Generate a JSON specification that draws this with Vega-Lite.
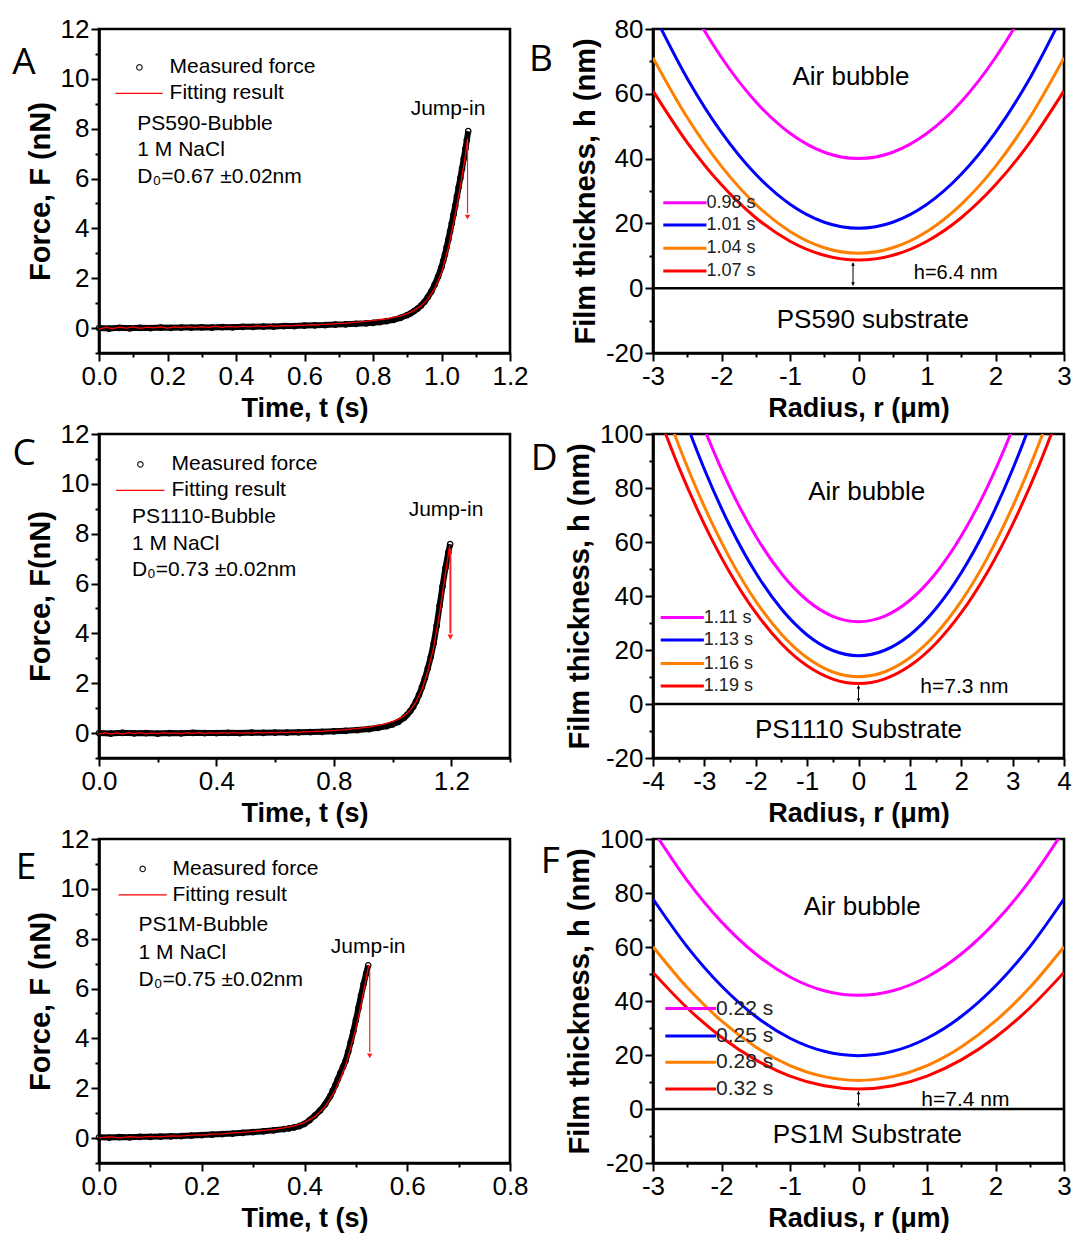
{
"$schema": "https://vega.github.io/schema/vega-lite/v6.json",
"background": "white",
"padding": {"left": 10, "top": 14, "right": 5, "bottom": 5},
"spacing": {"row": 81, "column": 143},
"bounds": "flush",
"columns": 2,
"config": {
  "view": {"stroke": "black", "strokeWidth": 2.6},
  "font": "Liberation Sans",
  "axis": {"domainColor": "black", "domainWidth": 2.6, "tickColor": "black", "tickWidth": 2, "labelFont": "Liberation Sans", "labelFontSize": 26, "labelColor": "black", "labelPadding": 2, "titleFont": "Liberation Sans", "titleFontSize": 27, "titleFontWeight": "bold", "titleColor": "black", "titlePadding": 6, "grid": false, "labelFlush": false, "labelOverlap": false, "labelBound": false},
  "axisY": {"titleFontSize": 29, "titlePadding": 5},
  "text": {"font": "Liberation Sans", "color": "black"}
},
"concat": [
  {
    "width": 411, "height": 324,
    "encoding": {
      "x": {"field": "t", "type": "quantitative", "scale": {"domain": [0, 1.2], "nice": false, "zero": false},
            "axis": {"title": "Time, t (s)", "values": [0,0.1,0.2,0.3,0.4,0.5,0.6,0.7,0.8,0.9,1,1.1,1.2],
                     "labelExpr": "abs(datum.value*5-round(datum.value*5))<0.01 ? format(datum.value,'.1f') : ''",
                     "tickSize": {"condition": {"test": "abs(datum.value*5-round(datum.value*5))<0.01", "value": 8}, "value": 4}}},
      "y": {"field": "F", "type": "quantitative", "scale": {"domain": [-1, 12], "nice": false, "zero": false},
            "axis": {"title": "Force, F (nN)", "values": [-1,0,1,2,3,4,5,6,7,8,9,10,11,12],
                     "labelExpr": "(datum.value>=0 && datum.value%2==0) ? datum.label : ''",
                     "tickSize": {"condition": {"test": "datum.value%2==0", "value": 8}, "value": 4}}}
    },
    "layer": [
      {"data": {"values": [
        {"t":0,"F":0.0},{"t":0.03,"F":-0.02},{"t":0.06,"F":0.01},{"t":0.09,"F":-0.01},{"t":0.12,"F":0.01},{"t":0.15,"F":0.0},{"t":0.18,"F":0.02},{"t":0.21,"F":0.01},{"t":0.24,"F":0.02},{"t":0.27,"F":0.02},{"t":0.30,"F":0.03},{"t":0.33,"F":0.02},{"t":0.36,"F":0.04},{"t":0.39,"F":0.03},{"t":0.42,"F":0.05},{"t":0.45,"F":0.05},{"t":0.48,"F":0.06},{"t":0.51,"F":0.06},{"t":0.54,"F":0.08},{"t":0.57,"F":0.08},{"t":0.60,"F":0.10},{"t":0.63,"F":0.11},{"t":0.66,"F":0.12},{"t":0.69,"F":0.14},{"t":0.72,"F":0.15},{"t":0.75,"F":0.17},{"t":0.78,"F":0.19},{"t":0.80,"F":0.21},{"t":0.82,"F":0.24},{"t":0.84,"F":0.28},{"t":0.86,"F":0.33},{"t":0.88,"F":0.41},{"t":0.90,"F":0.52},{"t":0.91,"F":0.59},{"t":0.92,"F":0.68},{"t":0.93,"F":0.78},{"t":0.94,"F":0.90},{"t":0.95,"F":1.05},{"t":0.96,"F":1.24},{"t":0.97,"F":1.46},{"t":0.98,"F":1.74},{"t":0.99,"F":2.06},{"t":1.00,"F":2.45},{"t":1.005,"F":2.70},{"t":1.01,"F":2.95},{"t":1.015,"F":3.25},{"t":1.02,"F":3.55},{"t":1.025,"F":3.88},{"t":1.03,"F":4.20},{"t":1.035,"F":4.55},{"t":1.04,"F":4.90},{"t":1.045,"F":5.28},{"t":1.05,"F":5.65},{"t":1.055,"F":6.02},{"t":1.06,"F":6.40},{"t":1.065,"F":6.80},{"t":1.07,"F":7.20},{"t":1.074,"F":7.55},{"t":1.078,"F":7.90}
      ]}, "mark": {"type": "line", "color": "black", "strokeWidth": 6}, "encoding": {}},
      {"data": {"values": [
        {"t":0,"F":0.0},{"t":0.03,"F":-0.02},{"t":0.06,"F":0.01},{"t":0.09,"F":-0.01},{"t":0.12,"F":0.01},{"t":0.15,"F":0.0},{"t":0.18,"F":0.02},{"t":0.21,"F":0.01},{"t":0.24,"F":0.02},{"t":0.27,"F":0.02},{"t":0.30,"F":0.03},{"t":0.33,"F":0.02},{"t":0.36,"F":0.04},{"t":0.39,"F":0.03},{"t":0.42,"F":0.05},{"t":0.45,"F":0.05},{"t":0.48,"F":0.06},{"t":0.51,"F":0.06},{"t":0.54,"F":0.08},{"t":0.57,"F":0.08},{"t":0.60,"F":0.10},{"t":0.63,"F":0.11},{"t":0.66,"F":0.12},{"t":0.69,"F":0.14},{"t":0.72,"F":0.15},{"t":0.75,"F":0.17},{"t":0.78,"F":0.19},{"t":0.80,"F":0.21},{"t":0.82,"F":0.24},{"t":0.84,"F":0.28},{"t":0.86,"F":0.33},{"t":0.88,"F":0.41},{"t":0.90,"F":0.52},{"t":0.91,"F":0.59},{"t":0.92,"F":0.68},{"t":0.93,"F":0.78},{"t":0.94,"F":0.90},{"t":0.95,"F":1.05},{"t":0.96,"F":1.24},{"t":0.97,"F":1.46},{"t":0.98,"F":1.74},{"t":0.99,"F":2.06},{"t":1.00,"F":2.45},{"t":1.005,"F":2.70},{"t":1.01,"F":2.95},{"t":1.015,"F":3.25},{"t":1.02,"F":3.55},{"t":1.025,"F":3.88},{"t":1.03,"F":4.20},{"t":1.035,"F":4.55},{"t":1.04,"F":4.90},{"t":1.045,"F":5.28},{"t":1.05,"F":5.65},{"t":1.055,"F":6.02},{"t":1.06,"F":6.40},{"t":1.065,"F":6.80},{"t":1.07,"F":7.20},{"t":1.074,"F":7.55},{"t":1.078,"F":7.90}
      ]}, "mark": {"type": "point", "shape": "circle", "filled": false, "color": "black", "size": 30, "strokeWidth": 1.2, "opacity": 1}, "encoding": {}},
      {"data": {"values": [
        {"t":0,"F":-0.04},{"t":0.02,"F":0.03},{"t":0.04,"F":-0.02},{"t":0.06,"F":0.04},{"t":0.08,"F":0.0},{"t":0.10,"F":0.05},{"t":0.12,"F":-0.01},{"t":0.14,"F":0.04},{"t":0.16,"F":0.01},{"t":0.18,"F":0.05},{"t":0.20,"F":0.0},{"t":0.22,"F":0.05},{"t":0.24,"F":0.02},{"t":0.26,"F":0.06},{"t":0.28,"F":0.02},{"t":0.30,"F":0.06},{"t":0.32,"F":0.03},{"t":0.34,"F":0.07},{"t":0.36,"F":0.03},{"t":0.38,"F":0.07},{"t":0.40,"F":0.04},{"t":0.42,"F":0.08},{"t":0.44,"F":0.05},{"t":0.46,"F":0.09},{"t":0.48,"F":0.06},{"t":0.50,"F":0.10},{"t":0.52,"F":0.07},{"t":0.54,"F":0.11},{"t":0.56,"F":0.09},{"t":0.58,"F":0.12},{"t":0.60,"F":0.11},{"t":0.62,"F":0.14},{"t":0.64,"F":0.13},{"t":0.66,"F":0.16},{"t":0.68,"F":0.16},{"t":0.70,"F":0.19},{"t":0.72,"F":0.19},{"t":0.74,"F":0.23},{"t":0.76,"F":0.24},{"t":0.78,"F":0.28},{"t":0.80,"F":0.30},{"t":0.82,"F":0.34},{"t":0.84,"F":0.37},{"t":0.86,"F":0.43},{"t":0.88,"F":0.49},{"t":0.90,"F":0.58},{"t":0.92,"F":0.71},{"t":0.94,"F":0.89},{"t":0.96,"F":1.15},{"t":0.98,"F":1.58},{"t":1.00,"F":2.22},{"t":1.02,"F":3.22},{"t":1.04,"F":4.55},{"t":1.05,"F":5.30},{"t":1.06,"F":6.10},{"t":1.07,"F":6.95},{"t":1.076,"F":7.60}
      ]}, "mark": {"type": "line", "color": "#ff0000", "strokeWidth": 1.3}, "encoding": {}},
      {"data": {"values": [{"t":1.076,"F":7.55,"F2":4.6}]}, "mark": {"type": "rule", "color": "#ff2020", "strokeWidth": 1.2}, "encoding": {"y2": {"field": "F2"}}},
      {"data": {"values": [{"t":1.076,"F":4.45}]}, "mark": {"type": "point", "shape": "triangle-down", "filled": true, "color": "#ff2020", "size": 30, "opacity": 1}, "encoding": {}},
      {"data": {"values": [{"t":0.118,"F":10.46}]}, "mark": {"type": "point", "shape": "circle", "filled": false, "color": "#222222", "size": 30, "strokeWidth": 1.2, "opacity": 1}, "encoding": {}},
      {"data": {"values": [{"t":0.048,"t2":0.186,"F":9.42}]}, "mark": {"type": "rule", "color": "#ff0000", "strokeWidth": 1.2}, "encoding": {"x2": {"field": "t2"}}},
      {"data": {"values": [
        {"t":0.206,"F":10.46,"label":"Measured force"},{"t":0.206,"F":9.42,"label":"Fitting result"},{"t":0.112,"F":8.2,"label":"PS590-Bubble"},{"t":0.112,"F":7.13,"label":"1 M NaCl"},{"t":0.112,"F":6.07,"label":"D₀=0.67 ±0.02nm"}
      ]}, "mark": {"type": "text", "align": "left", "baseline": "middle", "fontSize": 21}, "encoding": {"text": {"field": "label"}}},
      {"data": {"values": [{"t":1.019,"F":8.8,"label":"Jump-in"}]}, "mark": {"type": "text", "align": "center", "baseline": "middle", "fontSize": 21}, "encoding": {"text": {"field": "label"}}},
      {"data": {"values": [{"t":-0.219,"F":10.65,"label":"A"}]}, "mark": {"type": "text", "align": "center", "baseline": "middle", "fontSize": 37, "font": "Open Sans"}, "encoding": {"text": {"field": "label"}}}
    ]
  },
  {
    "width": 411, "height": 324,
    "encoding": {
      "x": {"field": "r", "type": "quantitative", "scale": {"domain": [-3, 3], "nice": false, "zero": false},
            "axis": {"title": "Radius, r (μm)", "values": [-3,-2.5,-2,-1.5,-1,-0.5,0,0.5,1,1.5,2,2.5,3],
                     "labelExpr": "datum.value%1==0 ? ''+datum.value : ''",
                     "tickSize": {"condition": {"test": "datum.value%1==0", "value": 8}, "value": 4}}},
      "y": {"field": "h", "type": "quantitative", "scale": {"domain": [-20, 80], "nice": false, "zero": false},
            "axis": {"title": "Film thickness, h (nm)", "values": [-20,-10,0,10,20,30,40,50,60,70,80],
                     "labelExpr": "datum.value%20==0 ? ''+datum.value : ''",
                     "tickSize": {"condition": {"test": "datum.value%20==0", "value": 8}, "value": 4}}}
    },
    "layer": [
      {"data": {"values": [
        {"r":-3,"h":110.2,"s":"0.98 s"},{"r":-2.5,"h":88.75,"s":"0.98 s"},{"r":-2,"h":71.2,"s":"0.98 s"},{"r":-1.5,"h":57.55,"s":"0.98 s"},{"r":-1,"h":47.8,"s":"0.98 s"},{"r":-0.5,"h":41.95,"s":"0.98 s"},{"r":0,"h":40,"s":"0.98 s"},{"r":0.5,"h":41.95,"s":"0.98 s"},{"r":1,"h":47.8,"s":"0.98 s"},{"r":1.5,"h":57.55,"s":"0.98 s"},{"r":2,"h":71.2,"s":"0.98 s"},{"r":2.5,"h":88.75,"s":"0.98 s"},{"r":3,"h":110.2,"s":"0.98 s"},
        {"r":-3,"h":85.1,"s":"1.01 s"},{"r":-2.5,"h":64.75,"s":"1.01 s"},{"r":-2,"h":48.1,"s":"1.01 s"},{"r":-1.5,"h":35.15,"s":"1.01 s"},{"r":-1,"h":25.9,"s":"1.01 s"},{"r":-0.5,"h":20.35,"s":"1.01 s"},{"r":0,"h":18.5,"s":"1.01 s"},{"r":0.5,"h":20.35,"s":"1.01 s"},{"r":1,"h":25.9,"s":"1.01 s"},{"r":1.5,"h":35.15,"s":"1.01 s"},{"r":2,"h":48.1,"s":"1.01 s"},{"r":2.5,"h":64.75,"s":"1.01 s"},{"r":3,"h":85.1,"s":"1.01 s"},
        {"r":-3,"h":71.1,"s":"1.04 s"},{"r":-2.5,"h":52.68,"s":"1.04 s"},{"r":-2,"h":37.6,"s":"1.04 s"},{"r":-1.5,"h":25.88,"s":"1.04 s"},{"r":-1,"h":17.5,"s":"1.04 s"},{"r":-0.5,"h":12.48,"s":"1.04 s"},{"r":0,"h":10.8,"s":"1.04 s"},{"r":0.5,"h":12.48,"s":"1.04 s"},{"r":1,"h":17.5,"s":"1.04 s"},{"r":1.5,"h":25.88,"s":"1.04 s"},{"r":2,"h":37.6,"s":"1.04 s"},{"r":2.5,"h":52.68,"s":"1.04 s"},{"r":3,"h":71.1,"s":"1.04 s"},
        {"r":-3,"h":60.9,"s":"1.07 s"},{"r":-2.5,"h":44.95,"s":"1.07 s"},{"r":-2,"h":31.9,"s":"1.07 s"},{"r":-1.5,"h":21.75,"s":"1.07 s"},{"r":-1,"h":14.5,"s":"1.07 s"},{"r":-0.5,"h":10.15,"s":"1.07 s"},{"r":0,"h":8.7,"s":"1.07 s"},{"r":0.5,"h":10.15,"s":"1.07 s"},{"r":1,"h":14.5,"s":"1.07 s"},{"r":1.5,"h":21.75,"s":"1.07 s"},{"r":2,"h":31.9,"s":"1.07 s"},{"r":2.5,"h":44.95,"s":"1.07 s"},{"r":3,"h":60.9,"s":"1.07 s"}
      ]}, "mark": {"type": "line", "strokeWidth": 3, "clip": true, "interpolate": "monotone"},
       "encoding": {"color": {"field": "s", "type": "nominal", "scale": {"domain": ["0.98 s","1.01 s","1.04 s","1.07 s"], "range": ["#ff00ff","#0000ff","#ff8000","#ff0000"]}, "legend": null}}},
      {"data": {"values": [
        {"r":-2.85,"r2":-2.22,"h":26.4,"s":"0.98 s"},{"r":-2.85,"r2":-2.22,"h":19.5,"s":"1.01 s"},{"r":-2.85,"r2":-2.22,"h":12.3,"s":"1.04 s"},{"r":-2.85,"r2":-2.22,"h":5.3,"s":"1.07 s"}
      ]}, "mark": {"type": "rule", "strokeWidth": 3}, "encoding": {"x2": {"field": "r2"}, "color": {"field": "s", "type": "nominal", "legend": null}}},
      {"data": {"values": [
        {"r":-2.22,"h":26.4,"label":"0.98 s"},{"r":-2.22,"h":19.5,"label":"1.01 s"},{"r":-2.22,"h":12.3,"label":"1.04 s"},{"r":-2.22,"h":5.3,"label":"1.07 s"}
      ]}, "mark": {"type": "text", "align": "left", "baseline": "middle", "fontSize": 18, "color": "#222222"}, "encoding": {"text": {"field": "label"}}},
      {"data": {"values": [{"r":1.42,"h":4.6,"label":"h=6.4 nm"}]}, "mark": {"type": "text", "align": "center", "baseline": "middle", "fontSize": 20}, "encoding": {"text": {"field": "label"}}},
      {"data": {"values": [{"r":-3,"r2":3,"h":0}]}, "mark": {"type": "rule", "color": "black", "strokeWidth": 2.6}, "encoding": {"x2": {"field": "r2"}}},
      {"data": {"values": [{"r":-0.08,"h":0.8,"h2":7.8}]}, "mark": {"type": "rule", "color": "black", "strokeWidth": 1}, "encoding": {"y2": {"field": "h2"}}},
      {"data": {"values": [{"r":-0.08,"h":7.4}]}, "mark": {"type": "point", "shape": "triangle-up", "filled": true, "color": "black", "size": 14, "opacity": 1}, "encoding": {}},
      {"data": {"values": [{"r":-0.08,"h":1.3}]}, "mark": {"type": "point", "shape": "triangle-down", "filled": true, "color": "black", "size": 14, "opacity": 1}, "encoding": {}},
      {"data": {"values": [{"r":-0.11,"h":65.1,"label":"Air bubble"},{"r":0.21,"h":-9.7,"label":"PS590 substrate"}]}, "mark": {"type": "text", "align": "center", "baseline": "middle", "fontSize": 26}, "encoding": {"text": {"field": "label"}}},
      {"data": {"values": [{"r":-4.635,"h":70.4,"label":"B"}]}, "mark": {"type": "text", "align": "center", "baseline": "middle", "fontSize": 37, "font": "Open Sans"}, "encoding": {"text": {"field": "label"}}}
    ]
  },
  {
    "width": 411, "height": 324,
    "encoding": {
      "x": {"field": "t", "type": "quantitative", "scale": {"domain": [0, 1.4], "nice": false, "zero": false},
            "axis": {"title": "Time, t (s)", "values": [0,0.2,0.4,0.6,0.8,1,1.2,1.4],
                     "labelExpr": "abs(datum.value*2.5-round(datum.value*2.5))<0.01 ? format(datum.value,'.1f') : ''",
                     "tickSize": {"condition": {"test": "abs(datum.value*2.5-round(datum.value*2.5))<0.01", "value": 8}, "value": 4}}},
      "y": {"field": "F", "type": "quantitative", "scale": {"domain": [-1, 12], "nice": false, "zero": false},
            "axis": {"title": "Force, F(nN)", "values": [-1,0,1,2,3,4,5,6,7,8,9,10,11,12],
                     "labelExpr": "(datum.value>=0 && datum.value%2==0) ? datum.label : ''",
                     "tickSize": {"condition": {"test": "datum.value%2==0", "value": 8}, "value": 4}}}
    },
    "layer": [
      {"data": {"values": [
        {"t":0,"F":0.0},{"t":0.04,"F":-0.02},{"t":0.08,"F":0.01},{"t":0.12,"F":-0.01},{"t":0.16,"F":0.0},{"t":0.20,"F":-0.02},{"t":0.24,"F":0.0},{"t":0.28,"F":-0.01},{"t":0.32,"F":0.01},{"t":0.36,"F":0.0},{"t":0.40,"F":0.0},{"t":0.44,"F":0.01},{"t":0.48,"F":0.0},{"t":0.52,"F":0.02},{"t":0.56,"F":0.01},{"t":0.60,"F":0.02},{"t":0.64,"F":0.02},{"t":0.68,"F":0.03},{"t":0.72,"F":0.04},{"t":0.76,"F":0.05},{"t":0.80,"F":0.07},{"t":0.84,"F":0.09},{"t":0.88,"F":0.12},{"t":0.92,"F":0.16},{"t":0.95,"F":0.21},{"t":0.98,"F":0.28},{"t":1.00,"F":0.35},{"t":1.02,"F":0.45},{"t":1.04,"F":0.62},{"t":1.05,"F":0.74},{"t":1.06,"F":0.88},{"t":1.07,"F":1.05},{"t":1.08,"F":1.27},{"t":1.09,"F":1.53},{"t":1.10,"F":1.84},{"t":1.11,"F":2.20},{"t":1.12,"F":2.60},{"t":1.13,"F":3.05},{"t":1.14,"F":3.60},{"t":1.15,"F":4.30},{"t":1.16,"F":5.10},{"t":1.17,"F":5.88},{"t":1.18,"F":6.62},{"t":1.19,"F":7.25},{"t":1.196,"F":7.58}
      ]}, "mark": {"type": "line", "color": "black", "strokeWidth": 6}, "encoding": {}},
      {"data": {"values": [
        {"t":0,"F":0.0},{"t":0.04,"F":-0.02},{"t":0.08,"F":0.01},{"t":0.12,"F":-0.01},{"t":0.16,"F":0.0},{"t":0.20,"F":-0.02},{"t":0.24,"F":0.0},{"t":0.28,"F":-0.01},{"t":0.32,"F":0.01},{"t":0.36,"F":0.0},{"t":0.40,"F":0.0},{"t":0.44,"F":0.01},{"t":0.48,"F":0.0},{"t":0.52,"F":0.02},{"t":0.56,"F":0.01},{"t":0.60,"F":0.02},{"t":0.64,"F":0.02},{"t":0.68,"F":0.03},{"t":0.72,"F":0.04},{"t":0.76,"F":0.05},{"t":0.80,"F":0.07},{"t":0.84,"F":0.09},{"t":0.88,"F":0.12},{"t":0.92,"F":0.16},{"t":0.95,"F":0.21},{"t":0.98,"F":0.28},{"t":1.00,"F":0.35},{"t":1.02,"F":0.45},{"t":1.04,"F":0.62},{"t":1.05,"F":0.74},{"t":1.06,"F":0.88},{"t":1.07,"F":1.05},{"t":1.08,"F":1.27},{"t":1.09,"F":1.53},{"t":1.10,"F":1.84},{"t":1.11,"F":2.20},{"t":1.12,"F":2.60},{"t":1.13,"F":3.05},{"t":1.14,"F":3.60},{"t":1.15,"F":4.30},{"t":1.16,"F":5.10},{"t":1.17,"F":5.88},{"t":1.18,"F":6.62},{"t":1.19,"F":7.25},{"t":1.196,"F":7.58}
      ]}, "mark": {"type": "point", "shape": "circle", "filled": false, "color": "black", "size": 30, "strokeWidth": 1.2, "opacity": 1}, "encoding": {}},
      {"data": {"values": [
        {"t":0,"F":-0.04},{"t":0.02,"F":0.02},{"t":0.04,"F":-0.03},{"t":0.06,"F":0.01},{"t":0.08,"F":-0.04},{"t":0.10,"F":0.02},{"t":0.12,"F":-0.02},{"t":0.14,"F":0.02},{"t":0.16,"F":-0.03},{"t":0.18,"F":0.01},{"t":0.20,"F":-0.02},{"t":0.22,"F":0.02},{"t":0.24,"F":-0.02},{"t":0.26,"F":0.01},{"t":0.28,"F":-0.03},{"t":0.30,"F":0.02},{"t":0.32,"F":-0.01},{"t":0.34,"F":0.02},{"t":0.36,"F":-0.02},{"t":0.38,"F":0.02},{"t":0.40,"F":-0.01},{"t":0.42,"F":0.02},{"t":0.44,"F":0.0},{"t":0.46,"F":0.03},{"t":0.48,"F":-0.01},{"t":0.50,"F":0.02},{"t":0.52,"F":0.0},{"t":0.54,"F":0.03},{"t":0.56,"F":0.0},{"t":0.58,"F":0.03},{"t":0.60,"F":0.01},{"t":0.62,"F":0.04},{"t":0.64,"F":0.02},{"t":0.66,"F":0.05},{"t":0.68,"F":0.03},{"t":0.70,"F":0.06},{"t":0.72,"F":0.05},{"t":0.74,"F":0.08},{"t":0.76,"F":0.07},{"t":0.78,"F":0.10},{"t":0.80,"F":0.10},{"t":0.82,"F":0.13},{"t":0.84,"F":0.13},{"t":0.86,"F":0.17},{"t":0.88,"F":0.18},{"t":0.90,"F":0.22},{"t":0.92,"F":0.24},{"t":0.94,"F":0.29},{"t":0.96,"F":0.33},{"t":0.98,"F":0.39},{"t":1.00,"F":0.46},{"t":1.02,"F":0.56},{"t":1.04,"F":0.70},{"t":1.06,"F":0.92},{"t":1.08,"F":1.25},{"t":1.10,"F":1.75},{"t":1.12,"F":2.48},{"t":1.14,"F":3.45},{"t":1.16,"F":4.80},{"t":1.18,"F":6.40},{"t":1.195,"F":7.55}
      ]}, "mark": {"type": "line", "color": "#ff0000", "strokeWidth": 1.3}, "encoding": {}},
      {"data": {"values": [{"t":1.197,"F":7.4,"F2":4.0}]}, "mark": {"type": "rule", "color": "#ff2020", "strokeWidth": 2}, "encoding": {"y2": {"field": "F2"}}},
      {"data": {"values": [{"t":1.197,"F":3.85}]}, "mark": {"type": "point", "shape": "triangle-down", "filled": true, "color": "#ff2020", "size": 35, "opacity": 1}, "encoding": {}},
      {"data": {"values": [{"t":0.141,"F":10.78}]}, "mark": {"type": "point", "shape": "circle", "filled": false, "color": "#222222", "size": 30, "strokeWidth": 1.2, "opacity": 1}, "encoding": {}},
      {"data": {"values": [{"t":0.058,"t2":0.223,"F":9.74}]}, "mark": {"type": "rule", "color": "#ff0000", "strokeWidth": 1.2}, "encoding": {"x2": {"field": "t2"}}},
      {"data": {"values": [
        {"t":0.247,"F":10.78,"label":"Measured force"},{"t":0.247,"F":9.74,"label":"Fitting result"},{"t":0.112,"F":8.68,"label":"PS1110-Bubble"},{"t":0.112,"F":7.6,"label":"1 M NaCl"},{"t":0.112,"F":6.55,"label":"D₀=0.73 ±0.02nm"}
      ]}, "mark": {"type": "text", "align": "left", "baseline": "middle", "fontSize": 21}, "encoding": {"text": {"field": "label"}}},
      {"data": {"values": [{"t":1.182,"F":8.95,"label":"Jump-in"}]}, "mark": {"type": "text", "align": "center", "baseline": "middle", "fontSize": 21}, "encoding": {"text": {"field": "label"}}},
      {"data": {"values": [{"t":-0.255,"F":11.2,"label":"C"}]}, "mark": {"type": "text", "align": "center", "baseline": "middle", "fontSize": 37, "font": "Open Sans"}, "encoding": {"text": {"field": "label"}}}
    ]
  },
  {
    "width": 411, "height": 324,
    "encoding": {
      "x": {"field": "r", "type": "quantitative", "scale": {"domain": [-4, 4], "nice": false, "zero": false},
            "axis": {"title": "Radius, r (μm)", "values": [-4,-3.5,-3,-2.5,-2,-1.5,-1,-0.5,0,0.5,1,1.5,2,2.5,3,3.5,4],
                     "labelExpr": "datum.value%1==0 ? ''+datum.value : ''",
                     "tickSize": {"condition": {"test": "datum.value%1==0", "value": 8}, "value": 4}}},
      "y": {"field": "h", "type": "quantitative", "scale": {"domain": [-20, 100], "nice": false, "zero": false},
            "axis": {"title": "Film thickness, h (nm)", "values": [-20,-10,0,10,20,30,40,50,60,70,80,90,100],
                     "labelExpr": "datum.value%20==0 ? ''+datum.value : ''",
                     "tickSize": {"condition": {"test": "datum.value%20==0", "value": 8}, "value": 4}}}
    },
    "layer": [
      {"data": {"values": [
        {"r":-4,"h":157.4,"s":"1.11 s"},{"r":-3.5,"h":127.6,"s":"1.11 s"},{"r":-3,"h":101.9,"s":"1.11 s"},{"r":-2.5,"h":80.06,"s":"1.11 s"},{"r":-2,"h":62.22,"s":"1.11 s"},{"r":-1.5,"h":48.34,"s":"1.11 s"},{"r":-1,"h":38.43,"s":"1.11 s"},{"r":-0.5,"h":32.48,"s":"1.11 s"},{"r":0,"h":30.5,"s":"1.11 s"},{"r":0.5,"h":32.48,"s":"1.11 s"},{"r":1,"h":38.43,"s":"1.11 s"},{"r":1.5,"h":48.34,"s":"1.11 s"},{"r":2,"h":62.22,"s":"1.11 s"},{"r":2.5,"h":80.06,"s":"1.11 s"},{"r":3,"h":101.9,"s":"1.11 s"},{"r":3.5,"h":127.6,"s":"1.11 s"},{"r":4,"h":157.4,"s":"1.11 s"},
        {"r":-4,"h":140.6,"s":"1.13 s"},{"r":-3.5,"h":111.9,"s":"1.13 s"},{"r":-3,"h":86.93,"s":"1.13 s"},{"r":-2.5,"h":65.84,"s":"1.13 s"},{"r":-2,"h":48.58,"s":"1.13 s"},{"r":-1.5,"h":35.16,"s":"1.13 s"},{"r":-1,"h":25.57,"s":"1.13 s"},{"r":-0.5,"h":19.82,"s":"1.13 s"},{"r":0,"h":17.9,"s":"1.13 s"},{"r":0.5,"h":19.82,"s":"1.13 s"},{"r":1,"h":25.57,"s":"1.13 s"},{"r":1.5,"h":35.16,"s":"1.13 s"},{"r":2,"h":48.58,"s":"1.13 s"},{"r":2.5,"h":65.84,"s":"1.13 s"},{"r":3,"h":86.93,"s":"1.13 s"},{"r":3.5,"h":111.9,"s":"1.13 s"},{"r":4,"h":140.6,"s":"1.13 s"},
        {"r":-4,"h":122.1,"s":"1.16 s"},{"r":-3.5,"h":95.85,"s":"1.16 s"},{"r":-3,"h":73.1,"s":"1.16 s"},{"r":-2.5,"h":53.85,"s":"1.16 s"},{"r":-2,"h":38.1,"s":"1.16 s"},{"r":-1.5,"h":25.85,"s":"1.16 s"},{"r":-1,"h":17.1,"s":"1.16 s"},{"r":-0.5,"h":11.85,"s":"1.16 s"},{"r":0,"h":10.1,"s":"1.16 s"},{"r":0.5,"h":11.85,"s":"1.16 s"},{"r":1,"h":17.1,"s":"1.16 s"},{"r":1.5,"h":25.85,"s":"1.16 s"},{"r":2,"h":38.1,"s":"1.16 s"},{"r":2.5,"h":53.85,"s":"1.16 s"},{"r":3,"h":73.1,"s":"1.16 s"},{"r":3.5,"h":95.85,"s":"1.16 s"},{"r":4,"h":122.1,"s":"1.16 s"},
        {"r":-4,"h":112.4,"s":"1.19 s"},{"r":-3.5,"h":87.84,"s":"1.19 s"},{"r":-3,"h":66.55,"s":"1.19 s"},{"r":-2.5,"h":48.54,"s":"1.19 s"},{"r":-2,"h":33.8,"s":"1.19 s"},{"r":-1.5,"h":22.34,"s":"1.19 s"},{"r":-1,"h":14.15,"s":"1.19 s"},{"r":-0.5,"h":9.24,"s":"1.19 s"},{"r":0,"h":7.6,"s":"1.19 s"},{"r":0.5,"h":9.24,"s":"1.19 s"},{"r":1,"h":14.15,"s":"1.19 s"},{"r":1.5,"h":22.34,"s":"1.19 s"},{"r":2,"h":33.8,"s":"1.19 s"},{"r":2.5,"h":48.54,"s":"1.19 s"},{"r":3,"h":66.55,"s":"1.19 s"},{"r":3.5,"h":87.84,"s":"1.19 s"},{"r":4,"h":112.4,"s":"1.19 s"}
      ]}, "mark": {"type": "line", "strokeWidth": 3, "clip": true, "interpolate": "monotone"},
       "encoding": {"color": {"field": "s", "type": "nominal", "scale": {"domain": ["1.11 s","1.13 s","1.16 s","1.19 s"], "range": ["#ff00ff","#0000ff","#ff8000","#ff0000"]}, "legend": null}}},
      {"data": {"values": [
        {"r":-3.85,"r2":-3.01,"h":32,"s":"1.11 s"},{"r":-3.85,"r2":-3.01,"h":23.7,"s":"1.13 s"},{"r":-3.85,"r2":-3.01,"h":15,"s":"1.16 s"},{"r":-3.85,"r2":-3.01,"h":6.7,"s":"1.19 s"}
      ]}, "mark": {"type": "rule", "strokeWidth": 3}, "encoding": {"x2": {"field": "r2"}, "color": {"field": "s", "type": "nominal", "legend": null}}},
      {"data": {"values": [
        {"r":-3.01,"h":32,"label":"1.11 s"},{"r":-3.01,"h":23.7,"label":"1.13 s"},{"r":-3.01,"h":15,"label":"1.16 s"},{"r":-3.01,"h":6.7,"label":"1.19 s"}
      ]}, "mark": {"type": "text", "align": "left", "baseline": "middle", "fontSize": 18, "color": "#222222"}, "encoding": {"text": {"field": "label"}}},
      {"data": {"values": [{"r":2.06,"h":6.3,"label":"h=7.3 nm"}]}, "mark": {"type": "text", "align": "center", "baseline": "middle", "fontSize": 21}, "encoding": {"text": {"field": "label"}}},
      {"data": {"values": [{"r":-4,"r2":4,"h":0}]}, "mark": {"type": "rule", "color": "black", "strokeWidth": 2.6}, "encoding": {"x2": {"field": "r2"}}},
      {"data": {"values": [{"r":0,"h":0.8,"h2":6.8}]}, "mark": {"type": "rule", "color": "black", "strokeWidth": 1}, "encoding": {"y2": {"field": "h2"}}},
      {"data": {"values": [{"r":0,"h":6.3}]}, "mark": {"type": "point", "shape": "triangle-up", "filled": true, "color": "black", "size": 14, "opacity": 1}, "encoding": {}},
      {"data": {"values": [{"r":0,"h":1.4}]}, "mark": {"type": "point", "shape": "triangle-down", "filled": true, "color": "black", "size": 14, "opacity": 1}, "encoding": {}},
      {"data": {"values": [{"r":0.16,"h":78.4,"label":"Air bubble"},{"r":0,"h":-9.8,"label":"PS1110 Substrate"}]}, "mark": {"type": "text", "align": "center", "baseline": "middle", "fontSize": 26}, "encoding": {"text": {"field": "label"}}},
      {"data": {"values": [{"r":-6.12,"h":90.7,"label":"D"}]}, "mark": {"type": "text", "align": "center", "baseline": "middle", "fontSize": 37, "font": "Open Sans"}, "encoding": {"text": {"field": "label"}}}
    ]
  },
  {
    "width": 411, "height": 324,
    "encoding": {
      "x": {"field": "t", "type": "quantitative", "scale": {"domain": [0, 0.8], "nice": false, "zero": false},
            "axis": {"title": "Time, t (s)", "values": [0,0.1,0.2,0.3,0.4,0.5,0.6,0.7,0.8],
                     "labelExpr": "abs(datum.value*5-round(datum.value*5))<0.01 ? format(datum.value,'.1f') : ''",
                     "tickSize": {"condition": {"test": "abs(datum.value*5-round(datum.value*5))<0.01", "value": 8}, "value": 4}}},
      "y": {"field": "F", "type": "quantitative", "scale": {"domain": [-1, 12], "nice": false, "zero": false},
            "axis": {"title": "Force, F (nN)", "values": [-1,0,1,2,3,4,5,6,7,8,9,10,11,12],
                     "labelExpr": "(datum.value>=0 && datum.value%2==0) ? datum.label : ''",
                     "tickSize": {"condition": {"test": "datum.value%2==0", "value": 8}, "value": 4}}}
    },
    "layer": [
      {"data": {"values": [
        {"t":0,"F":0.03},{"t":0.02,"F":0.02},{"t":0.04,"F":0.04},{"t":0.06,"F":0.03},{"t":0.08,"F":0.05},{"t":0.10,"F":0.05},{"t":0.12,"F":0.06},{"t":0.14,"F":0.07},{"t":0.16,"F":0.08},{"t":0.18,"F":0.10},{"t":0.20,"F":0.12},{"t":0.22,"F":0.14},{"t":0.24,"F":0.16},{"t":0.26,"F":0.18},{"t":0.28,"F":0.21},{"t":0.30,"F":0.24},{"t":0.32,"F":0.27},{"t":0.34,"F":0.31},{"t":0.36,"F":0.36},{"t":0.37,"F":0.39},{"t":0.38,"F":0.43},{"t":0.39,"F":0.48},{"t":0.40,"F":0.57},{"t":0.41,"F":0.72},{"t":0.42,"F":0.90},{"t":0.43,"F":1.10},{"t":0.44,"F":1.35},{"t":0.45,"F":1.68},{"t":0.455,"F":1.90},{"t":0.46,"F":2.12},{"t":0.465,"F":2.37},{"t":0.47,"F":2.62},{"t":0.475,"F":2.86},{"t":0.48,"F":3.10},{"t":0.485,"F":3.46},{"t":0.49,"F":3.85},{"t":0.495,"F":4.28},{"t":0.50,"F":4.73},{"t":0.505,"F":5.22},{"t":0.51,"F":5.72},{"t":0.515,"F":6.18},{"t":0.52,"F":6.60},{"t":0.524,"F":6.93}
      ]}, "mark": {"type": "line", "color": "black", "strokeWidth": 6}, "encoding": {}},
      {"data": {"values": [
        {"t":0,"F":0.03},{"t":0.02,"F":0.02},{"t":0.04,"F":0.04},{"t":0.06,"F":0.03},{"t":0.08,"F":0.05},{"t":0.10,"F":0.05},{"t":0.12,"F":0.06},{"t":0.14,"F":0.07},{"t":0.16,"F":0.08},{"t":0.18,"F":0.10},{"t":0.20,"F":0.12},{"t":0.22,"F":0.14},{"t":0.24,"F":0.16},{"t":0.26,"F":0.18},{"t":0.28,"F":0.21},{"t":0.30,"F":0.24},{"t":0.32,"F":0.27},{"t":0.34,"F":0.31},{"t":0.36,"F":0.36},{"t":0.37,"F":0.39},{"t":0.38,"F":0.43},{"t":0.39,"F":0.48},{"t":0.40,"F":0.57},{"t":0.41,"F":0.72},{"t":0.42,"F":0.90},{"t":0.43,"F":1.10},{"t":0.44,"F":1.35},{"t":0.45,"F":1.68},{"t":0.455,"F":1.90},{"t":0.46,"F":2.12},{"t":0.465,"F":2.37},{"t":0.47,"F":2.62},{"t":0.475,"F":2.86},{"t":0.48,"F":3.10},{"t":0.485,"F":3.46},{"t":0.49,"F":3.85},{"t":0.495,"F":4.28},{"t":0.50,"F":4.73},{"t":0.505,"F":5.22},{"t":0.51,"F":5.72},{"t":0.515,"F":6.18},{"t":0.52,"F":6.60},{"t":0.524,"F":6.93}
      ]}, "mark": {"type": "point", "shape": "circle", "filled": false, "color": "black", "size": 30, "strokeWidth": 1.2, "opacity": 1}, "encoding": {}},
      {"data": {"values": [
        {"t":0,"F":0.01},{"t":0.02,"F":0.05},{"t":0.04,"F":0.01},{"t":0.06,"F":0.06},{"t":0.08,"F":0.03},{"t":0.10,"F":0.07},{"t":0.12,"F":0.05},{"t":0.14,"F":0.09},{"t":0.16,"F":0.08},{"t":0.18,"F":0.12},{"t":0.20,"F":0.12},{"t":0.22,"F":0.16},{"t":0.24,"F":0.17},{"t":0.26,"F":0.21},{"t":0.28,"F":0.23},{"t":0.30,"F":0.27},{"t":0.32,"F":0.31},{"t":0.34,"F":0.35},{"t":0.36,"F":0.41},{"t":0.38,"F":0.49},{"t":0.40,"F":0.62},{"t":0.42,"F":0.86},{"t":0.44,"F":1.25},{"t":0.46,"F":1.92},{"t":0.48,"F":2.90},{"t":0.50,"F":4.40},{"t":0.51,"F":5.35},{"t":0.52,"F":6.40},{"t":0.525,"F":6.95}
      ]}, "mark": {"type": "line", "color": "#ff0000", "strokeWidth": 1.3}, "encoding": {}},
      {"data": {"values": [{"t":0.527,"F":6.7,"F2":3.45}]}, "mark": {"type": "rule", "color": "#ff2020", "strokeWidth": 1.2}, "encoding": {"y2": {"field": "F2"}}},
      {"data": {"values": [{"t":0.527,"F":3.3}]}, "mark": {"type": "point", "shape": "triangle-down", "filled": true, "color": "#ff2020", "size": 30, "opacity": 1}, "encoding": {}},
      {"data": {"values": [{"t":0.085,"F":10.8}]}, "mark": {"type": "point", "shape": "circle", "filled": false, "color": "#222222", "size": 30, "strokeWidth": 1.2, "opacity": 1}, "encoding": {}},
      {"data": {"values": [{"t":0.038,"t2":0.132,"F":9.76}]}, "mark": {"type": "rule", "color": "#ff0000", "strokeWidth": 1.2}, "encoding": {"x2": {"field": "t2"}}},
      {"data": {"values": [
        {"t":0.143,"F":10.8,"label":"Measured force"},{"t":0.143,"F":9.76,"label":"Fitting result"},{"t":0.077,"F":8.53,"label":"PS1M-Bubble"},{"t":0.077,"F":7.42,"label":"1 M NaCl"},{"t":0.077,"F":6.36,"label":"D₀=0.75 ±0.02nm"}
      ]}, "mark": {"type": "text", "align": "left", "baseline": "middle", "fontSize": 21}, "encoding": {"text": {"field": "label"}}},
      {"data": {"values": [{"t":0.524,"F":7.66,"label":"Jump-in"}]}, "mark": {"type": "text", "align": "center", "baseline": "middle", "fontSize": 21}, "encoding": {"text": {"field": "label"}}},
      {"data": {"values": [{"t":-0.142,"F":10.85,"label":"E"}]}, "mark": {"type": "text", "align": "center", "baseline": "middle", "fontSize": 37, "font": "Open Sans"}, "encoding": {"text": {"field": "label"}}}
    ]
  },
  {
    "width": 411, "height": 324,
    "encoding": {
      "x": {"field": "r", "type": "quantitative", "scale": {"domain": [-3, 3], "nice": false, "zero": false},
            "axis": {"title": "Radius, r (μm)", "values": [-3,-2.5,-2,-1.5,-1,-0.5,0,0.5,1,1.5,2,2.5,3],
                     "labelExpr": "datum.value%1==0 ? ''+datum.value : ''",
                     "tickSize": {"condition": {"test": "datum.value%1==0", "value": 8}, "value": 4}}},
      "y": {"field": "h", "type": "quantitative", "scale": {"domain": [-20, 100], "nice": false, "zero": false},
            "axis": {"title": "Film thickness, h (nm)", "values": [-20,-10,0,10,20,30,40,50,60,70,80,90,100],
                     "labelExpr": "datum.value%20==0 ? ''+datum.value : ''",
                     "tickSize": {"condition": {"test": "datum.value%20==0", "value": 8}, "value": 4}}}
    },
    "layer": [
      {"data": {"values": [
        {"r":-3,"h":103.3,"s":"0.22 s"},{"r":-2.5,"h":84.6,"s":"0.22 s"},{"r":-2,"h":69.3,"s":"0.22 s"},{"r":-1.5,"h":57.4,"s":"0.22 s"},{"r":-1,"h":48.9,"s":"0.22 s"},{"r":-0.5,"h":43.8,"s":"0.22 s"},{"r":0,"h":42.1,"s":"0.22 s"},{"r":0.5,"h":43.8,"s":"0.22 s"},{"r":1,"h":48.9,"s":"0.22 s"},{"r":1.5,"h":57.4,"s":"0.22 s"},{"r":2,"h":69.3,"s":"0.22 s"},{"r":2.5,"h":84.6,"s":"0.22 s"},{"r":3,"h":103.3,"s":"0.22 s"},
        {"r":-3,"h":77.8,"s":"0.25 s"},{"r":-2.5,"h":60.06,"s":"0.25 s"},{"r":-2,"h":45.55,"s":"0.25 s"},{"r":-1.5,"h":34.26,"s":"0.25 s"},{"r":-1,"h":26.2,"s":"0.25 s"},{"r":-0.5,"h":21.36,"s":"0.25 s"},{"r":0,"h":19.75,"s":"0.25 s"},{"r":0.5,"h":21.36,"s":"0.25 s"},{"r":1,"h":26.2,"s":"0.25 s"},{"r":1.5,"h":34.26,"s":"0.25 s"},{"r":2,"h":45.55,"s":"0.25 s"},{"r":2.5,"h":60.06,"s":"0.25 s"},{"r":3,"h":77.8,"s":"0.25 s"},
        {"r":-3,"h":60.1,"s":"0.28 s"},{"r":-2.5,"h":44.98,"s":"0.28 s"},{"r":-2,"h":32.6,"s":"0.28 s"},{"r":-1.5,"h":22.98,"s":"0.28 s"},{"r":-1,"h":16.1,"s":"0.28 s"},{"r":-0.5,"h":11.98,"s":"0.28 s"},{"r":0,"h":10.6,"s":"0.28 s"},{"r":0.5,"h":11.98,"s":"0.28 s"},{"r":1,"h":16.1,"s":"0.28 s"},{"r":1.5,"h":22.98,"s":"0.28 s"},{"r":2,"h":32.6,"s":"0.28 s"},{"r":2.5,"h":44.98,"s":"0.28 s"},{"r":3,"h":60.1,"s":"0.28 s"},
        {"r":-3,"h":50.6,"s":"0.32 s"},{"r":-2.5,"h":37.4,"s":"0.32 s"},{"r":-2,"h":26.6,"s":"0.32 s"},{"r":-1.5,"h":18.2,"s":"0.32 s"},{"r":-1,"h":12.2,"s":"0.32 s"},{"r":-0.5,"h":8.6,"s":"0.32 s"},{"r":0,"h":7.4,"s":"0.32 s"},{"r":0.5,"h":8.6,"s":"0.32 s"},{"r":1,"h":12.2,"s":"0.32 s"},{"r":1.5,"h":18.2,"s":"0.32 s"},{"r":2,"h":26.6,"s":"0.32 s"},{"r":2.5,"h":37.4,"s":"0.32 s"},{"r":3,"h":50.6,"s":"0.32 s"}
      ]}, "mark": {"type": "line", "strokeWidth": 3, "clip": true, "interpolate": "monotone"},
       "encoding": {"color": {"field": "s", "type": "nominal", "scale": {"domain": ["0.22 s","0.25 s","0.28 s","0.32 s"], "range": ["#ff00ff","#0000ff","#ff8000","#ff0000"]}, "legend": null}}},
      {"data": {"values": [
        {"r":-2.82,"r2":-2.08,"h":37.2,"s":"0.22 s"},{"r":-2.82,"r2":-2.08,"h":27,"s":"0.25 s"},{"r":-2.82,"r2":-2.08,"h":17.3,"s":"0.28 s"},{"r":-2.82,"r2":-2.08,"h":7.4,"s":"0.32 s"}
      ]}, "mark": {"type": "rule", "strokeWidth": 3}, "encoding": {"x2": {"field": "r2"}, "color": {"field": "s", "type": "nominal", "legend": null}}},
      {"data": {"values": [
        {"r":-2.08,"h":37.2,"label":"0.22 s"},{"r":-2.08,"h":27,"label":"0.25 s"},{"r":-2.08,"h":17.3,"label":"0.28 s"},{"r":-2.08,"h":7.4,"label":"0.32 s"}
      ]}, "mark": {"type": "text", "align": "left", "baseline": "middle", "fontSize": 21, "color": "#222222"}, "encoding": {"text": {"field": "label"}}},
      {"data": {"values": [{"r":1.56,"h":3.4,"label":"h=7.4 nm"}]}, "mark": {"type": "text", "align": "center", "baseline": "middle", "fontSize": 21}, "encoding": {"text": {"field": "label"}}},
      {"data": {"values": [{"r":-3,"r2":3,"h":0}]}, "mark": {"type": "rule", "color": "black", "strokeWidth": 2.6}, "encoding": {"x2": {"field": "r2"}}},
      {"data": {"values": [{"r":0,"h":0.8,"h2":6.6}]}, "mark": {"type": "rule", "color": "black", "strokeWidth": 1}, "encoding": {"y2": {"field": "h2"}}},
      {"data": {"values": [{"r":0,"h":6.1}]}, "mark": {"type": "point", "shape": "triangle-up", "filled": true, "color": "black", "size": 14, "opacity": 1}, "encoding": {}},
      {"data": {"values": [{"r":0,"h":1.4}]}, "mark": {"type": "point", "shape": "triangle-down", "filled": true, "color": "black", "size": 14, "opacity": 1}, "encoding": {}},
      {"data": {"values": [{"r":0.055,"h":75,"label":"Air bubble"},{"r":0.13,"h":-9.5,"label":"PS1M Substrate"}]}, "mark": {"type": "text", "align": "center", "baseline": "middle", "fontSize": 26}, "encoding": {"text": {"field": "label"}}},
      {"data": {"values": [{"r":-4.5,"h":91.6,"label":"F"}]}, "mark": {"type": "text", "align": "center", "baseline": "middle", "fontSize": 37, "font": "Open Sans"}, "encoding": {"text": {"field": "label"}}}
    ]
  }
]
}
